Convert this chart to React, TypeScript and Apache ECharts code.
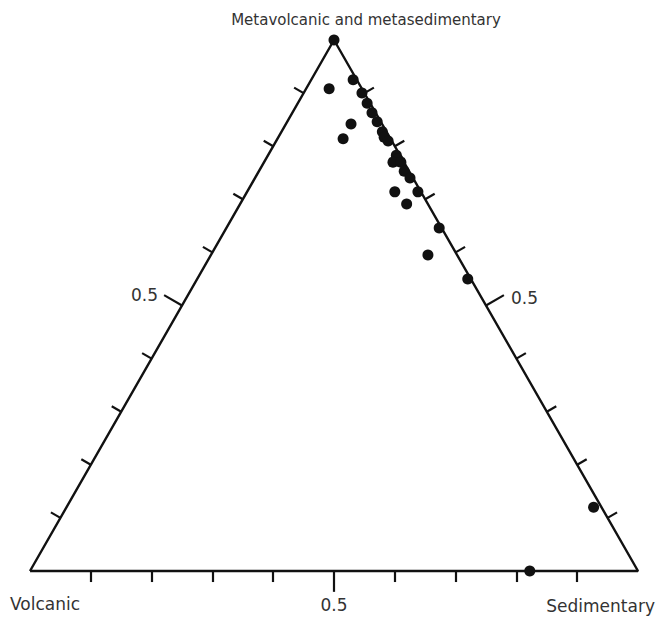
import React, { useEffect, useRef } from "react";
import * as echarts from "echarts";

// Ternary compositions (fractions)
const metaFrac = [1.0, 0.908, 0.925, 0.9, 0.881, 0.863, 0.846, 0.842, 0.827, 0.817, 0.81, 0.814, 0.783, 0.776, 0.77, 0.77, 0.753, 0.74, 0.714, 0.714, 0.691, 0.646, 0.595, 0.55, 0.12, 0.0];
const volcFrac = [0, 0.054, 0.006, 0.004, 0.005, 0.006, 0.006, 0.051, 0.007, 0.009, 0.006, 0.078, 0.006, 0.007, 0.018, 0.005, 0.008, 0.005, 0.005, 0.043, 0.035, 0.004, 0.048, 0.005, 0.013, 0.178];
const sedFrac = metaFrac.map((m, i) => +(1 - m - volcFrac[i]).toFixed(3));

const tickValues = [0.1, 0.2, 0.3, 0.4, 0.5, 0.6, 0.7, 0.8, 0.9];
const tickLabel = "0.5";
const vertexLabels = ["Metavolcanic and metasedimentary", "Volcanic", "Sedimentary"];

const H = Math.sqrt(3) / 2;

export default function App() {
  const ref = useRef<HTMLDivElement>(null);
  useEffect(() => {
    const chart = echarts.init(ref.current!, null, { renderer: "svg" });
    const pts = metaFrac.map((m, i) => [sedFrac[i] + m / 2, m * H]);
    const SHORT = 0.018;
    const LONG = 0.034;
    const ticks: any[] = [];
    tickValues.forEach((t) => {
      const len = Math.abs(t - 0.5) < 1e-6 ? LONG : SHORT;
      ticks.push({ coords: [[t, 0], [t, -len]] });
      const lx = 0.5 * t, ly = H * t;
      ticks.push({ coords: [[lx, ly], [lx - 0.866 * len, ly + 0.5 * len]] });
      const rx = 1 - 0.5 * t, ry = H * t;
      ticks.push({ coords: [[rx, ry], [rx + 0.866 * len, ry + 0.5 * len]] });
    });
    const font = "DejaVu Sans";
    const txtColor = "#333";
    chart.setOption({
      animation: false,
      grid: { left: 30, top: 40, width: 608, height: 531 },
      xAxis: { type: "value", min: 0, max: 1, show: false },
      yAxis: { type: "value", min: 0, max: H, show: false },
      series: [
        {
          type: "line",
          data: [[0, 0], [1, 0], [0.5, H], [0, 0]],
          symbol: "none",
          lineStyle: { color: "#111", width: 2.4 },
          clip: false,
          z: 2,
        },
        {
          type: "lines",
          coordinateSystem: "cartesian2d",
          data: ticks,
          lineStyle: { color: "#111", width: 2.2, opacity: 1 },
          clip: false,
          z: 2,
        },
        {
          type: "scatter",
          data: pts,
          symbol: "circle",
          symbolSize: 11,
          itemStyle: { color: "#111", opacity: 1 },
          clip: false,
          z: 3,
        },
      ],
      graphic: [
        { type: "text", x: 366, y: 20, style: { text: vertexLabels[0], font: `15px '${font}'`, fill: txtColor, textAlign: "center", textVerticalAlign: "middle" } },
        { type: "text", x: 10, y: 604, style: { text: vertexLabels[1], font: `17px '${font}'`, fill: txtColor, textAlign: "left", textVerticalAlign: "middle" } },
        { type: "text", x: 655, y: 606, style: { text: vertexLabels[2], font: `17px '${font}'`, fill: txtColor, textAlign: "right", textVerticalAlign: "middle" } },
        { type: "text", x: 334, y: 605, style: { text: tickLabel, font: `17px '${font}'`, fill: txtColor, textAlign: "center", textVerticalAlign: "middle" } },
        { type: "text", x: 158, y: 295, style: { text: tickLabel, font: `17px '${font}'`, fill: txtColor, textAlign: "right", textVerticalAlign: "middle" } },
        { type: "text", x: 511, y: 298, style: { text: tickLabel, font: `17px '${font}'`, fill: txtColor, textAlign: "left", textVerticalAlign: "middle" } },
      ],
    });
    return () => chart.dispose();
  }, []);
  return <div ref={ref} style={{ width: 657, height: 617, position: "absolute", left: 0, top: 0 }} />;
}
